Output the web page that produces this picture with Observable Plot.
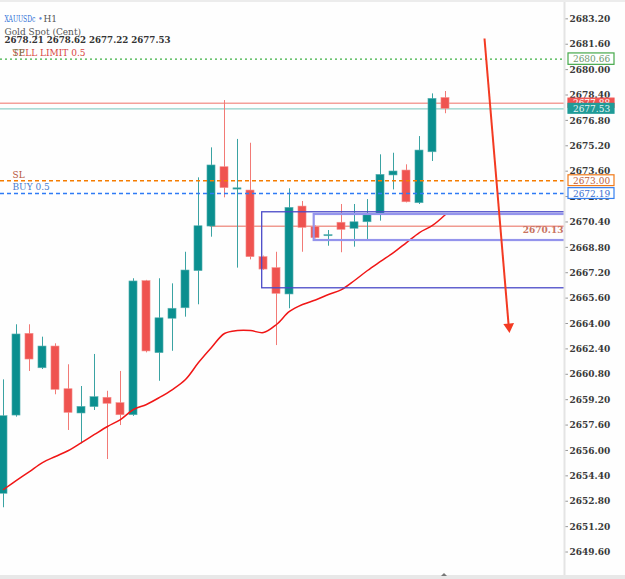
<!DOCTYPE html>
<html><head><meta charset="utf-8">
<script src="https://cdn.jsdelivr.net/npm/d3@7"></script>
<script src="https://cdn.jsdelivr.net/npm/@observablehq/plot@0.6"></script>
<style>
html,body{margin:0;padding:0;background:#fff;}
#chart svg{display:block;}
#chart svg text{font-stretch:semi-condensed;}
</style></head><body><div id="chart"></div>
<script>
// ---- data ----
const candleIndex = d3.range(35);
const openP  = [2653.27,2658.20,2663.35,2661.18,2662.55,2659.86,2658.33,2658.73,2659.32,2658.98,2658.22,2666.67,2662.13,2664.30,2664.96,2667.30,2670.11,2673.85,2672.44,2672.38,2668.18,2667.49,2665.83,2671.37,2670.07,2669.50,2670.35,2669.97,2670.38,2670.91,2673.33,2673.64,2671.58,2674.79,2678.21];
const highP  = [2660.45,2663.92,2663.92,2663.14,2662.72,2661.40,2660.03,2662.05,2659.73,2660.98,2666.82,2666.72,2666.82,2666.50,2668.49,2673.18,2675.07,2678.05,2675.60,2675.36,2668.25,2668.49,2672.49,2671.69,2670.15,2669.86,2671.50,2671.50,2671.81,2674.63,2674.73,2674.00,2675.78,2678.47,2678.62];
const lowP   = [2652.39,2658.10,2660.98,2661.10,2659.51,2657.26,2656.42,2658.52,2655.43,2657.57,2658.15,2662.15,2660.36,2662.25,2664.40,2665.18,2669.44,2671.92,2667.49,2668.01,2667.35,2662.61,2664.93,2668.49,2669.33,2668.87,2668.46,2668.81,2669.19,2670.45,2672.42,2671.60,2671.50,2674.21,2677.22];
const closeP = [2658.16,2663.31,2661.73,2662.55,2659.82,2658.37,2658.75,2659.36,2658.94,2658.22,2666.65,2662.24,2664.33,2664.93,2667.34,2670.13,2673.96,2672.53,2672.52,2668.18,2667.40,2665.87,2671.29,2670.03,2669.38,2669.57,2669.90,2670.38,2670.87,2673.37,2673.58,2671.64,2674.90,2678.16,2677.53];
const maValues = [2653.54,2654.11,2654.67,2655.24,2655.62,2656.00,2656.50,2657.01,2657.51,2657.95,2658.58,2658.90,2659.34,2659.84,2660.47,2661.54,2662.49,2663.37,2663.56,2663.56,2663.43,2663.94,2664.76,2665.20,2665.48,2665.83,2666.14,2666.71,2667.34,2667.91,2668.47,2669.10,2669.73,2670.18,2670.87];
const yTicks = [2649.6,2651.2,2652.8,2654.4,2656.0,2657.6,2659.2,2660.8,2662.4,2664.0,2665.6,2667.2,2668.8,2670.4,2672.0,2673.6,2675.2,2676.8,2678.4,2680.0,2681.6,2683.2];
const levelNames  = ["tp","ask","bid","sl","buy"];
const levelPrices = [2680.66,2677.88,2677.53,2673.00,2672.19];
const markPrice = 2670.13, markStart = 15.9;
const zoneA = [19.9, 2666.22, 2671.01];   // start index, low, high
const zoneB = [23.9, 2669.23, 2670.87];
const arrowFrom = [37.0, 2681.96], arrowTo = [38.85, 2663.95], arrowHead = [38.88, 2663.80];
const ohlcText = "2678.21 2678.62 2677.22 2677.53";

// ---- layout helpers ----
const W = 625, H = 579, mT = 5, mB = 7, mR = 61;
const xDomain = [-3/13, 561/13];
const yDomain = [2648.31, 2684.04];
const pxPerUnit = (H - mT - mB) / (yDomain[1] - yDomain[0]);
const px2i = px => (px - 3) / 13;
const lvl = n => levelPrices[levelNames.indexOf(n)];

const teal = "#0a8f8f", tealWick = "#3aa3a3", red = "#ef5350", redWick = "#f27a76";
const candles = candleIndex.map(i => ({i, o: openP[i], h: highP[i], l: lowP[i], c: closeP[i]}));
const up = candles.filter(d => d.c >= d.o), down = candles.filter(d => d.c < d.o);
const F = "DejaVu Serif";

const bx1 = px2i(568), bx2 = px2i(614), bxc = px2i(591);
const box = (p, h, fill, stroke, text) => ({p, y1: p - h / pxPerUnit, y2: p + h / pxPerUnit, fill, stroke, text});
const boxTP  = box(lvl("tp"), 5.7, "#fff", "#45a84a", "#6f9a6f");
const boxAsk = box(lvl("ask"), 4.6, red, red, "#fff");
const boxBid = box(lvl("bid"), 4.9, "#1f9b98", "#1f9b98", "#e6f3f3");
const boxSL  = box(lvl("sl"), 5.4, "#fff", "#f07a1a", "#c0603c");
const boxBuy = box(lvl("buy"), 5.4, "#fff", "#3580f0", "#3b6fd0");
const boxMarks = b => [
  Plot.rect([b], {x1: bx1, x2: bx2, y1: "y1", y2: "y2", fill: b.fill, stroke: b.stroke, strokeWidth: 1.2}),
  Plot.text([b], {x: bxc, y: "p", text: d => d.p.toFixed(2), fill: b.text, fontSize: 10})
];

const chart = Plot.plot({
  width: W, height: H,
  marginLeft: 0, marginRight: mR, marginTop: mT, marginBottom: mB,
  style: {fontFamily: F, background: "#fefefe"},
  x: {domain: xDomain, axis: null},
  y: {domain: yDomain, axis: null},
  marks: [
    Plot.axisY(yTicks, {anchor: "right", tickSize: 3, tickPadding: 2, tickFormat: d => d.toFixed(2),
      fontSize: 10, fontWeight: "bold", stroke: "#999", fill: "#3a3a3a", fontFamily: F}),
    Plot.ruleY([lvl("ask")], {stroke: "#f4a09a", strokeWidth: 1.3}),
    Plot.ruleY([lvl("bid")], {stroke: "#8fd0c8", strokeWidth: 1.3}),
    Plot.ruleY([markPrice], {x1: markStart, x2: xDomain[1], stroke: "#f09a90", strokeWidth: 1.3}),
    Plot.ruleX(up, {x: "i", y1: "l", y2: "h", stroke: tealWick, strokeWidth: 1}),
    Plot.ruleX(down, {x: "i", y1: "l", y2: "h", stroke: redWick, strokeWidth: 1}),
    Plot.rect(up, {x1: d => d.i - 0.31, x2: d => d.i + 0.31, y1: "o", y2: "c", fill: teal, stroke: "#5fb3b3", strokeWidth: 0.6}),
    Plot.rect(down, {x1: d => d.i - 0.31, x2: d => d.i + 0.31, y1: "o", y2: "c", fill: red, stroke: "#f5918e", strokeWidth: 0.6}),
    Plot.line(candleIndex, {x: d => d, y: d => maValues[d], curve: "catmull-rom", stroke: "#f01616", strokeWidth: 1.5}),
    Plot.rect([zoneA], {x1: d => d[0], x2: xDomain[1] + 1, y1: d => d[1], y2: d => d[2], fill: "none", stroke: "#4a4ac8", strokeWidth: 1.3, clip: true}),
    Plot.rect([zoneB], {x1: d => d[0], x2: xDomain[1] + 1, y1: d => d[1], y2: d => d[2], fill: "none", stroke: "#9494ec", strokeWidth: 2.2, clip: true}),
    Plot.ruleY([lvl("tp")], {stroke: "#3cb043", strokeWidth: 1.4, strokeDasharray: "2,3"}),
    Plot.ruleY([lvl("sl")], {stroke: "#f57c00", strokeWidth: 1.4, strokeDasharray: "4,3"}),
    Plot.ruleY([lvl("buy")], {stroke: "#2f7bf5", strokeWidth: 1.4, strokeDasharray: "4,3"}),
    Plot.link([0], {x1: arrowFrom[0], y1: arrowFrom[1], x2: arrowTo[0], y2: arrowTo[1], stroke: "#f33a22", strokeWidth: 2}),
    Plot.dot([0], {x: arrowHead[0], y: arrowHead[1], symbol: "triangle", r: 4, fill: "#f33a22", rotate: 175}),
    // level labels at left
    Plot.text(["SELL LIMIT 0.5"], {x: px2i(12), y: lvl("tp"), dy: -3, textAnchor: "start", lineAnchor: "bottom", fill: "#d9453f", fontSize: 10}),
    Plot.text(["TP"], {x: px2i(12), y: lvl("tp"), dy: -3, textAnchor: "start", lineAnchor: "bottom", fill: "#5d7f4a", fontSize: 10, fillOpacity: 0.8}),
    Plot.text(["SL"], {x: px2i(12), y: lvl("sl"), dy: -3, textAnchor: "start", lineAnchor: "bottom", fill: "#b8553c", fontSize: 10}),
    Plot.text(["BUY 0.5"], {x: px2i(12), y: lvl("buy"), dy: -3.7, textAnchor: "start", lineAnchor: "bottom", fill: "#4a7fd0", fontSize: 10}),
    Plot.text([markPrice.toFixed(2)], {x: px2i(563), y: markPrice, dy: 7, textAnchor: "end", lineAnchor: "bottom", fill: "#c8735f", fontSize: 10, fontWeight: "bold"}),
    // price boxes on the axis
    ...boxMarks(boxTP), ...boxMarks(boxAsk), ...boxMarks(boxBid), ...boxMarks(boxSL), ...boxMarks(boxBuy),
    // header
    Plot.text(["XAUUSDc"], {frameAnchor: "top-left", dx: 4, dy: 16, textAnchor: "start", lineAnchor: "bottom", fill: "#2b6fd6", fontSize: 9.5}),
    Plot.text(["•"], {frameAnchor: "top-left", dx: 37.5, dy: 16, textAnchor: "start", lineAnchor: "bottom", fill: "#5b86d6", fontSize: 9}),
    Plot.text(["H1"], {frameAnchor: "top-left", dx: 43, dy: 16, textAnchor: "start", lineAnchor: "bottom", fill: "#555", fontSize: 10}),
    Plot.text(["Gold Spot (Cent)"], {frameAnchor: "top-left", dx: 4, dy: 29, textAnchor: "start", lineAnchor: "bottom", fill: "#555", fontSize: 10}),
    Plot.text([ohlcText], {frameAnchor: "top-left", dx: 4, dy: 37.5, textAnchor: "start", lineAnchor: "bottom", fill: "#333", fontSize: 10, fontWeight: "bold"})
  ]
});
document.getElementById("chart").appendChild(chart);

// fit the symbol name into its narrow slot, as in the reference
const svg = d3.select(chart);
svg.selectAll("text").filter(function() { return this.textContent === "XAUUSDc"; })
  .attr("textLength", 31).attr("lengthAdjust", "spacingAndGlyphs");
svg.selectAll("text").filter(function() { return this.textContent === ohlcText; })
  .attr("textLength", 166).attr("lengthAdjust", "spacingAndGlyphs");

// decorations: top/bottom bands and axis separator
svg.append("rect").attr("x", 0).attr("y", 0).attr("width", W).attr("height", 2).attr("fill", "#ececec");
svg.append("rect").attr("x", 0).attr("y", 575).attr("width", W).attr("height", 4).attr("fill", "#e8e8e8");
svg.append("path").attr("d", "M441,576 L444,573 L447,576 Z").attr("fill", "#777");
svg.append("line").attr("x1", 564.5).attr("x2", 564.5).attr("y1", 2).attr("y2", 575).attr("stroke", "#e4e4e4").attr("stroke-width", 2);
</script></body></html>
